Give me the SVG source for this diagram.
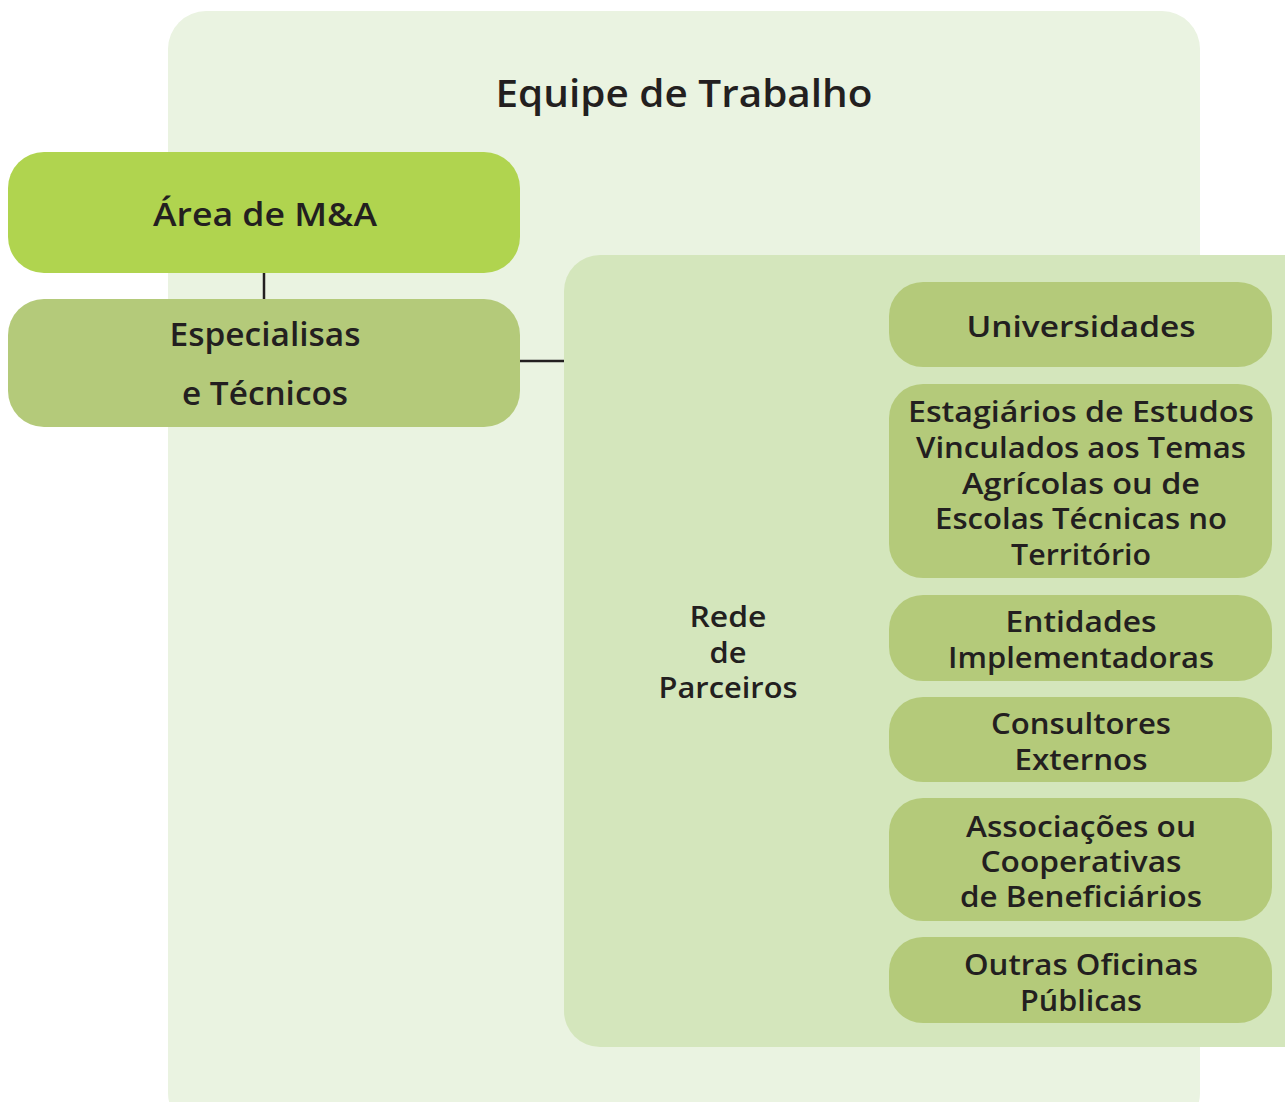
<svg xmlns="http://www.w3.org/2000/svg" width="1285" height="1102" viewBox="0 0 1285 1102">
<style>
text{font-family:"Open Sans","Noto Sans","Liberation Sans",sans-serif;font-weight:600;fill:#231f20;text-anchor:middle}
.t{font-size:37px}
.m{font-size:32px}
.c{font-size:29px}
.child{fill:#b4ca7a}
</style>
<rect width="1285" height="1102" fill="#ffffff"/>
<g id="equipe">
<rect x="168" y="11" width="1032" height="1120" rx="38" fill="#eaf3e1"/>
<text class="t" x="684" y="107" textLength="377" lengthAdjust="spacingAndGlyphs">Equipe de Trabalho</text>
</g>
<g id="connectors" stroke="#231f20" stroke-width="2.5" fill="none">
<line x1="264" y1="272" x2="264" y2="300"/>
<line x1="520" y1="361" x2="566" y2="361"/>
</g>
<g id="area">
<rect x="8" y="152" width="512" height="121" rx="36" fill="#b0d44f"/>
<text class="m" x="265" y="226" textLength="224" lengthAdjust="spacingAndGlyphs">Área de M&amp;A</text>
</g>
<g id="especialistas">
<rect x="8" y="299" width="512" height="128" rx="36" fill="#b4ca7a"/>
<text class="m" x="265" y="346" textLength="191" lengthAdjust="spacingAndGlyphs">Especialisas</text>
<text class="m" x="265" y="405" textLength="166" lengthAdjust="spacingAndGlyphs">e Técnicos</text>
</g>
<g id="rede">
<rect x="564" y="255" width="760" height="792" rx="36" fill="#d4e6bc"/>
<text class="c" x="728" y="627" textLength="77" lengthAdjust="spacingAndGlyphs">Rede</text>
<text class="c" x="728" y="663" textLength="37" lengthAdjust="spacingAndGlyphs">de</text>
<text class="c" x="728" y="698" textLength="139" lengthAdjust="spacingAndGlyphs">Parceiros</text>
</g>
<g id="universidades">
<rect class="child" x="889" y="282" width="383" height="85" rx="34"/>
<text class="c" x="1081" y="337" textLength="229" lengthAdjust="spacingAndGlyphs">Universidades</text>
</g>
<g id="estagiarios">
<rect class="child" x="889" y="384" width="383" height="194" rx="34"/>
<text class="c" x="1081" y="422" textLength="346" lengthAdjust="spacingAndGlyphs">Estagiários de Estudos</text>
<text class="c" x="1081" y="458" textLength="330" lengthAdjust="spacingAndGlyphs">Vinculados aos Temas</text>
<text class="c" x="1081" y="494" textLength="238" lengthAdjust="spacingAndGlyphs">Agrícolas ou de</text>
<text class="c" x="1081" y="529" textLength="292" lengthAdjust="spacingAndGlyphs">Escolas Técnicas no</text>
<text class="c" x="1081" y="565" textLength="140" lengthAdjust="spacingAndGlyphs">Território</text>
</g>
<g id="entidades">
<rect class="child" x="889" y="595" width="383" height="86" rx="34"/>
<text class="c" x="1081" y="632" textLength="151" lengthAdjust="spacingAndGlyphs">Entidades</text>
<text class="c" x="1081" y="668" textLength="266" lengthAdjust="spacingAndGlyphs">Implementadoras</text>
</g>
<g id="consultores">
<rect class="child" x="889" y="697" width="383" height="85" rx="34"/>
<text class="c" x="1081" y="734" textLength="180" lengthAdjust="spacingAndGlyphs">Consultores</text>
<text class="c" x="1081" y="770" textLength="133" lengthAdjust="spacingAndGlyphs">Externos</text>
</g>
<g id="associacoes">
<rect class="child" x="889" y="798" width="383" height="123" rx="34"/>
<text class="c" x="1081" y="837" textLength="230" lengthAdjust="spacingAndGlyphs">Associações ou</text>
<text class="c" x="1081" y="872" textLength="201" lengthAdjust="spacingAndGlyphs">Cooperativas</text>
<text class="c" x="1081" y="907" textLength="242" lengthAdjust="spacingAndGlyphs">de Beneficiários</text>
</g>
<g id="outras">
<rect class="child" x="889" y="937" width="383" height="86" rx="34"/>
<text class="c" x="1081" y="975" textLength="234" lengthAdjust="spacingAndGlyphs">Outras Oficinas</text>
<text class="c" x="1081" y="1011" textLength="122" lengthAdjust="spacingAndGlyphs">Públicas</text>
</g>
</svg>
